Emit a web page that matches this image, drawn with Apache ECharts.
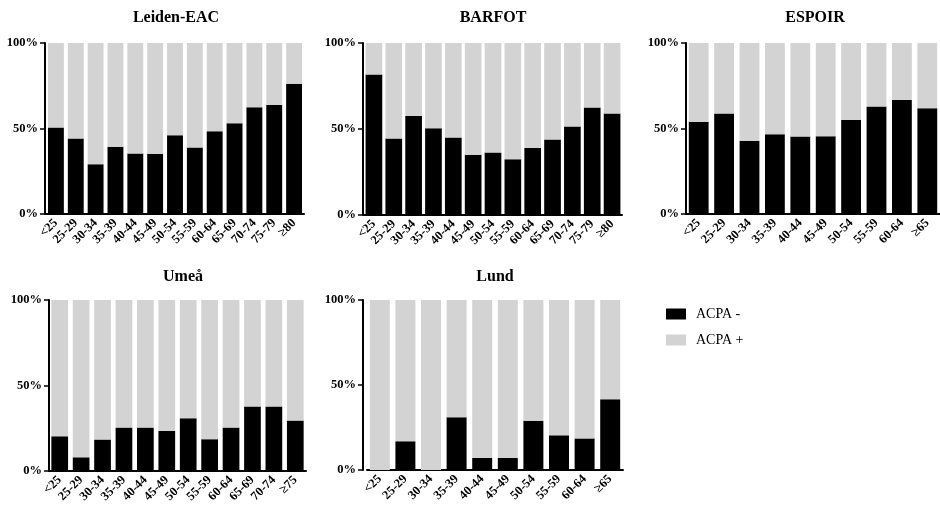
<!DOCTYPE html>
<html>
<head>
<meta charset="utf-8">
<script src="https://cdn.jsdelivr.net/npm/echarts@6/dist/echarts.min.js"></script>
<style>
html,body{margin:0;padding:0;background:#fff;}
#chart{width:940px;height:510px;}
</style>
</head>
<body>
<div id="chart"></div>
<script>
// ---- Data ----
const panelTitles = ['Leiden-EAC', 'BARFOT', 'ESPOIR', 'Umeå', 'Lund'];
const seriesNames = ['ACPA -', 'ACPA +'];
const yTickValues = [0, 50, 100];

const catsLeiden = ['<25','25-29','30-34','35-39','40-44','45-49','50-54','55-59','60-64','65-69','70-74','75-79','≥80'];
const negLeiden  = [50.6, 44.1, 29.1, 39.3, 35.4, 35.2, 46.1, 38.9, 48.4, 53.1, 62.5, 63.7, 76.2];

const catsBarfot = ['<25','25-29','30-34','35-39','40-44','45-49','50-54','55-59','60-64','65-69','70-74','75-79','≥80'];
const negBarfot  = [81.7, 44.5, 57.5, 50.5, 45.0, 35.1, 36.3, 32.4, 39.0, 43.9, 51.5, 62.5, 59.0];

const catsEspoir = ['<25','25-29','30-34','35-39','40-44','45-49','50-54','55-59','60-64','≥65'];
const negEspoir  = [53.9, 58.8, 42.8, 46.7, 45.3, 45.5, 54.9, 62.9, 66.6, 61.9];

const catsUmea = ['<25','25-29','30-34','35-39','40-44','45-49','50-54','55-59','60-64','65-69','70-74','≥75'];
const negUmea  = [20.3, 8.0, 18.4, 25.4, 25.4, 23.4, 30.9, 18.6, 25.4, 37.7, 37.7, 29.5];

const catsLund = ['<25','25-29','30-34','35-39','40-44','45-49','50-54','55-59','60-64','≥65'];
const negLund  = [0, 16.9, 0, 31.0, 7.1, 7.1, 29.0, 20.4, 18.6, 41.6];

const panelCats = [catsLeiden, catsBarfot, catsEspoir, catsUmea, catsLund];
const panelNeg  = [negLeiden, negBarfot, negEspoir, negUmea, negLund];

// ---- Layout ----
const grids = [
  {left: 46,  top: 43,  width: 258, height: 171},
  {left: 364, top: 43,  width: 258, height: 172},
  {left: 686, top: 43,  width: 255, height: 171},
  {left: 49,  top: 300, width: 257, height: 171},
  {left: 367, top: 300, width: 256, height: 170}
];
const titlePos = [[176, 18], [493, 18], [815, 18], [183, 277], [495, 277]];
const yOffsets = [1, 1, 0, 0, 4];
const gaps = ['20%', '16%', '22%', '22%', '22%'];

const serif = '"Liberation Serif", "Times New Roman", serif';
const NEG_COLOR = '#000000';
const POS_COLOR = '#d3d3d3';

const xAxes = [], yAxes = [], series = [], graphics = [];
panelCats.forEach((cats, i) => {
  xAxes.push({
    type: 'category', gridIndex: i, data: cats,
    axisLine: {lineStyle: {color: '#000', width: 2}},
    axisTick: {alignWithLabel: true, length: 5, lineStyle: {color: '#000', width: 1.5}},
    axisLabel: {rotate: 45, interval: 0, margin: 7, color: '#000', fontFamily: serif, fontWeight: 'bold', fontSize: 12.5}
  });
  yAxes.push({
    type: 'value', gridIndex: i, min: 0, max: 100, interval: 50, offset: yOffsets[i],
    splitLine: {show: false},
    axisLine: {show: true, lineStyle: {color: '#000', width: 2}},
    axisTick: {show: true, length: 5, lineStyle: {color: '#000', width: 1.5}},
    axisLabel: {formatter: v => yTickValues.includes(v) ? v + '%' : '', margin: 7, color: '#000', fontFamily: serif, fontWeight: 'bold', fontSize: 12.5}
  });
  const neg = panelNeg[i];
  series.push({
    name: seriesNames[0], type: 'bar', xAxisIndex: i, yAxisIndex: i, stack: 's' + i,
    data: neg, barCategoryGap: gaps[i], itemStyle: {color: NEG_COLOR}, silent: true
  });
  series.push({
    name: seriesNames[1], type: 'bar', xAxisIndex: i, yAxisIndex: i, stack: 's' + i,
    data: neg.map(v => +(100 - v).toFixed(1)), barCategoryGap: gaps[i], itemStyle: {color: POS_COLOR}, silent: true
  });
  graphics.push({
    type: 'text', x: titlePos[i][0], y: titlePos[i][1],
    style: {
      text: panelTitles[i], font: 'bold 16px ' + serif, fill: '#000',
      textAlign: 'center', textVerticalAlign: 'middle', align: 'center', verticalAlign: 'middle'
    }
  });
});

const chart = echarts.init(document.getElementById('chart'), null, {renderer: 'canvas'});
chart.setOption({
  animation: false,
  backgroundColor: '#fff',
  grid: grids.map(g => Object.assign({containLabel: false}, g)),
  xAxis: xAxes,
  yAxis: yAxes,
  series: series,
  legend: {
    data: seriesNames, orient: 'vertical', left: 661, top: 302,
    itemWidth: 20, itemHeight: 11, itemGap: 12, icon: 'rect',
    textStyle: {fontFamily: serif, fontSize: 14, color: '#000', padding: [0, 0, 0, 5]},
    selectedMode: false
  },
  graphic: graphics
});
</script>
</body>
</html>
